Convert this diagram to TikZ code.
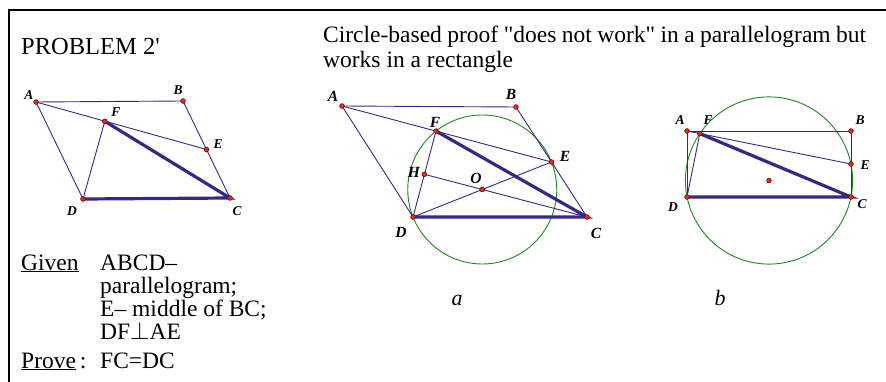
\documentclass[tikz,border=0pt]{standalone}
\usepackage{fontspec}
\setmainfont{Liberation Serif}[Ligatures=TeXOff]
\definecolor{geoblue}{RGB}{55,40,135}
\definecolor{geogreen}{RGB}{30,135,30}
\definecolor{dotred}{RGB}{225,45,25}
\begin{document}
\begin{tikzpicture}[x=1pt, y=-1pt,
    seg/.style={geoblue, line width=0.9pt},
    boldseg/.style={geoblue, line width=3.2pt},
    ring/.style={geogreen, line width=0.9pt},
    pt/.style={circle, fill=dotred, draw=red!35!black, line width=0.5pt, inner sep=0pt, minimum size=4.8pt},
    ptlbl/.style={font=\fontsize{13.5}{13.5}\selectfont\bfseries\itshape, inner sep=0pt},
    bigptlbl/.style={font=\fontsize{15.5}{15.5}\selectfont\bfseries\itshape, inner sep=0pt},
    txt/.style={font=\fontsize{23.5}{25}\selectfont, inner sep=0pt, anchor=base west}
]
    \useasboundingbox (0,0) rectangle (886,382);

    % frame (top rule and left rule)
    \draw[line width=2.4pt] (8,10) -- (886,10);
    \draw[line width=2pt] (9,9) -- (9,382);

    % left: problem text
    \node[txt, font=\fontsize{24.5}{25}\selectfont] (title) at (21,55) {PROBLEM 2\textquotesingle};
    \node[txt] (given) at (21,270) {\underline{Given}};
    \node[txt] (gv1) at (100,270) {ABCD–};
    \node[txt] (gv2) at (100,293) {parallelogram;};
    \node[txt] (gv3) at (100,316.5) {E– middle of BC;};
    \node[txt] (gv4) at (100,339.5) {DF$\perp$AE};
    \node[txt] (prove) at (21,368) {\underline{Prove}\,:};
    \node[txt] (pv1) at (100,368) {FC=DC};

    % heading over a and b
    \node[txt] (head1) at (323,43) {\makebox[543pt][s]{Circle-based proof "does not work" in a parallelogram but}};
    \node[txt] (head2) at (323,68) {works in a rectangle};

    % small figure
    \coordinate (lA) at (36,102);
    \coordinate (lB) at (183,101);
    \coordinate (lC) at (230,198);
    \coordinate (lD) at (83,199);
    \coordinate (lE) at (206.5,149.5);
    \coordinate (lF) at (104.8,121.3);
    \draw[seg] (lD) -- (lA) -- (lB) -- (lC);
    \draw[seg] (lA) -- (lE);
    \draw[seg] (lD) -- (lF);
    \draw[boldseg] (lF) -- (lC) -- (lD);

    % figure a: parallelogram
    \coordinate (mA) at (342,106);
    \coordinate (mB) at (516,107);
    \coordinate (mC) at (587,217);
    \coordinate (mD) at (413,217);
    \coordinate (mE) at (551.5,162);
    \coordinate (mF) at (436,131.1);
    \coordinate (mO) at (482.25,189.5);
    \coordinate (mH) at (424.4,174.3);
    \draw[ring] (mO) circle[radius=74.5];
    \draw[seg] (mD) -- (mA) -- (mB) -- (mC);
    \draw[seg] (mA) -- (mE);
    \draw[seg] (mD) -- (mF);
    \draw[seg] (mD) -- (mE);
    \draw[seg] (mH) -- (mC);
    \draw[boldseg] (mF) -- (mC) -- (mD);

    % figure b: rectangle
    \coordinate (rA) at (687,131);
    \coordinate (rB) at (851,131);
    \coordinate (rC) at (851,197);
    \coordinate (rD) at (687,197);
    \coordinate (rE) at (851,164);
    \coordinate (rF) at (699.8,133.6);
    \coordinate (rO) at (769,180.5);
    \draw[ring] (rO) circle[radius=83.6];
    \draw[seg] (rD) -- (rA) -- (rB) -- (rC);
    \draw[seg] (rA) -- (rE);
    \draw[seg] (rD) -- (rF);
    \draw[boldseg] (rF) -- (rC) -- (rD);

    % points
    \foreach \p in {lA,lB,lC,lD,lE,lF,mA,mB,mC,mD,mE,mF,mO,mH,rA,rB,rC,rD,rE,rF,rO} {
        \node[pt] (d\p) at (\p) {};
    }

    % point labels
    \foreach \n/\t/\x/\y in {lA/A/29/95, lB/B/178/90, lF/F/116/112, lE/E/218/144, lD/D/72/211, lC/C/237/211,
                             rA/A/680/120, rF/F/708/120, rB/B/860/120, rE/E/865/165, rD/D/673/207, rC/C/862/204} {
        \node[ptlbl] (t\n) at (\x,\y) {\t};
    }
    \foreach \n/\t/\x/\y in {mA/A/333/96, mB/B/511/94, mF/F/435/122, mE/E/565/156, mH/H/414/172, mO/O/476/178, mD/D/401/232, mC/C/596/233} {
        \node[bigptlbl] (t\n) at (\x,\y) {\t};
    }

    % captions
    \node[txt, anchor=base, font=\fontsize{22}{25}\selectfont\itshape] (capa) at (457,305) {a};
    \node[txt, anchor=base, font=\fontsize{22}{25}\selectfont\itshape] (capb) at (720,305) {b};
\end{tikzpicture}
\end{document}
